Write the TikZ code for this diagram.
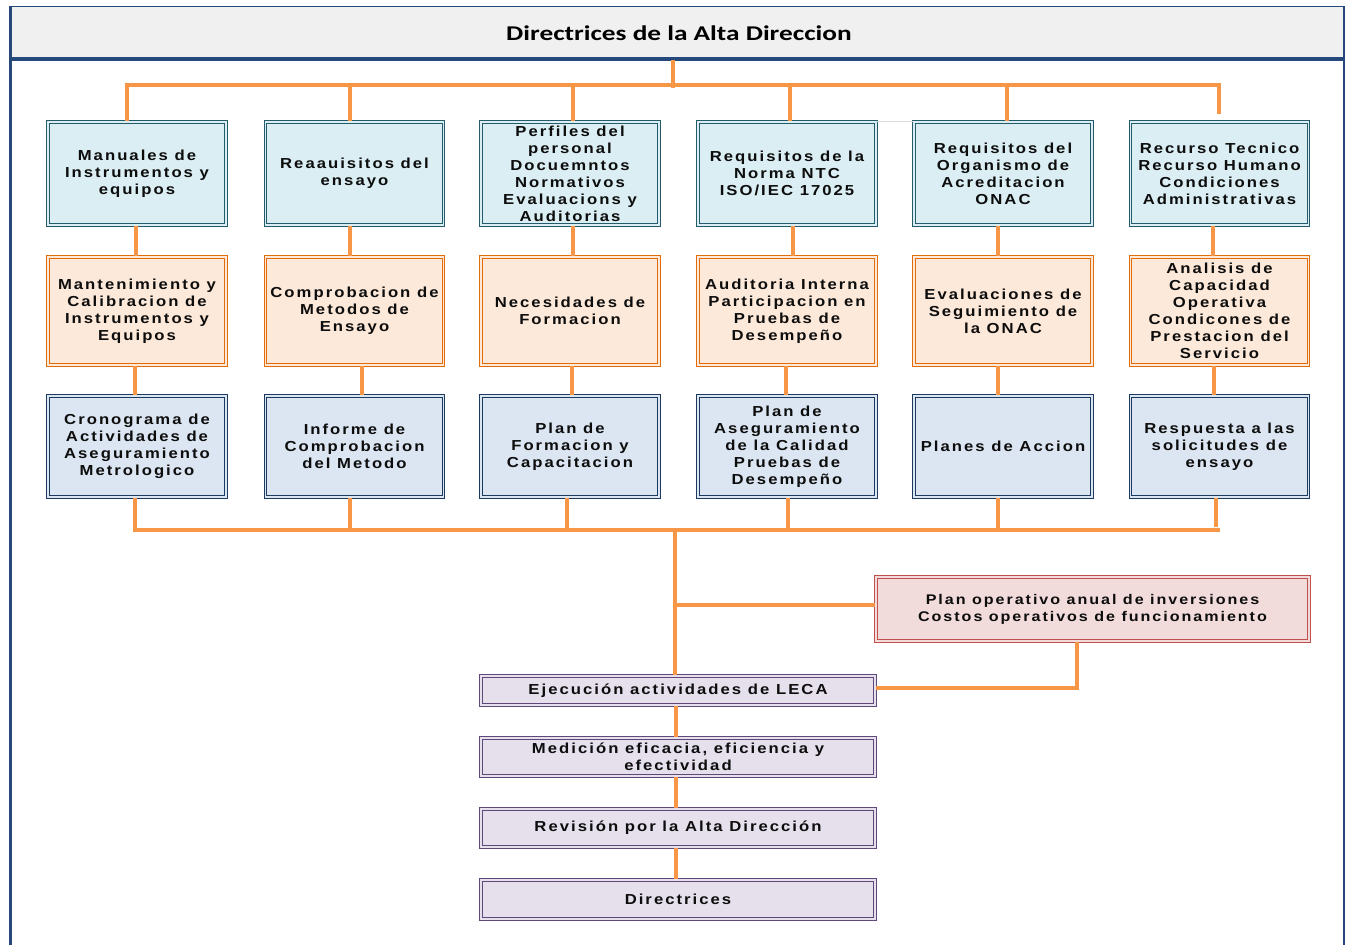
\documentclass[tikz,border=0pt]{standalone}
\usepackage{fontspec}
\setmainfont{Liberation Sans}
\newfontfamily\bxfont{Liberation Sans}[LetterSpace=14,FakeStretch=1.15]
\newfontfamily\ttlfont{Carlito}[FakeStretch=1.3]
\usetikzlibrary{calc}
\definecolor{frameblue}{HTML}{24497A}
\definecolor{bandgray}{HTML}{F0F0F0}
\definecolor{cO}{HTML}{F79646}
\definecolor{aDraw}{HTML}{245B6A}
\definecolor{aFill}{HTML}{DAEEF3}
\definecolor{bDraw}{HTML}{E36C0A}
\definecolor{bFill}{HTML}{FDE9D9}
\definecolor{cDraw}{HTML}{1B3A5E}
\definecolor{cFill}{HTML}{DCE6F2}
\definecolor{pDraw}{HTML}{C0504D}
\definecolor{pFill}{HTML}{F2DCDB}
\definecolor{vDraw}{HTML}{5F497A}
\definecolor{vFill}{HTML}{E5E0EC}
\begin{document}
\begin{tikzpicture}[x=1pt,y=-1pt,
  boxbase/.style={line width=1.1pt, double distance=1.3pt, align=center, inner sep=1pt,
    font=\bxfont\bfseries\fontsize{14.5}{17}\selectfont, text=black!95},
  rowA/.style={boxbase, draw=aDraw, fill=aFill, double=aFill, minimum width=178pt, minimum height=103pt},
  rowB/.style={boxbase, draw=bDraw, fill=bFill, double=bFill, minimum width=178pt, minimum height=108pt},
  rowC/.style={boxbase, draw=cDraw, fill=cFill, double=cFill, minimum width=178pt, minimum height=101pt},
  planbox/.style={boxbase, draw=pDraw, fill=pFill, double=pFill, minimum width=433pt, minimum height=64pt},
  flowbox/.style={boxbase, draw=vDraw, fill=vFill, double=vFill, minimum width=394pt},
  conn/.style={draw=cO, line width=4pt, line join=miter, line cap=butt}]
\useasboundingbox (0,0) rectangle (1346,945);
\fill[white] (0,0) rectangle (1346,945);
% frame and title band
\fill[bandgray] (10,6) rectangle (1344,59);
\draw[frameblue, line width=3pt] (10,945) -- (10,6);
\draw[frameblue, line width=1.5pt] (10,6.5) -- (1344,6.5);
\draw[frameblue, line width=1.8pt] (1344,6) -- (1344,945);
\draw[frameblue, line width=3.5pt] (10,59) -- (1344,59);
\node[font=\ttlfont\bfseries\fontsize{21}{25}\selectfont, text=black] (title) at (679,33) {Directrices de la Alta Direccion};

% row A
\node[rowA] (a1) at (137,173.5) {Manuales de\\Instrumentos y\\equipos};
\node[rowA] (a2) at (354.5,173.5) {Reaauisitos del\\ensayo};
\node[rowA] (a3) at (570,173.5) {Perfiles del\\personal\\Docuemntos\\Normativos\\Evaluacions y\\Auditorias};
\node[rowA] (a4) at (787,173.5) {Requisitos de la\\Norma NTC\\ISO/IEC 17025};
\node[rowA] (a5) at (1003,173.5) {Requisitos del\\Organismo de\\Acreditacion\\ONAC};
\node[rowA] (a6) at (1219.5,173.5) {Recurso Tecnico\\Recurso Humano\\Condiciones\\Administrativas};
% row B
\node[rowB] (b1) at (137,311) {Mantenimiento y\\Calibracion de\\Instrumentos y\\Equipos};
\node[rowB] (b2) at (354.5,311) {Comprobacion de\\Metodos de\\Ensayo};
\node[rowB] (b3) at (570,311) {Necesidades de\\Formacion};
\node[rowB] (b4) at (787,311) {Auditoria Interna\\Participacion en\\Pruebas de\\Desempeño};
\node[rowB] (b5) at (1003,311) {Evaluaciones de\\Seguimiento de\\la ONAC};
\node[rowB] (b6) at (1219.5,311) {Analisis de\\Capacidad\\Operativa\\Condicones de\\Prestacion del\\Servicio};
% row C
\node[rowC] (c1) at (137,446.5) {Cronograma de\\Actividades de\\Aseguramiento\\Metrologico};
\node[rowC] (c2) at (354.5,446.5) {Informe de\\Comprobacion\\del Metodo};
\node[rowC] (c3) at (570,446.5) {Plan de\\Formacion y\\Capacitacion};
\node[rowC] (c4) at (787,446.5) {Plan de\\Aseguramiento\\de la Calidad\\Pruebas de\\Desempeño};
\node[rowC] (c5) at (1003,446.5) {Planes de Accion};
\node[rowC] (c6) at (1219.5,446.5) {Respuesta a las\\solicitudes de\\ensayo};

% plan and flow
\node[planbox, font=\bxfont\bfseries\fontsize{14}{17}\selectfont] (p) at (1092.5,609) {Plan operativo anual de inversiones\\Costos operativos de funcionamiento};
\node[flowbox, minimum height=29pt] (e) at (678,690.5) {Ejecución actividades de LECA};
\node[flowbox, minimum height=38pt] (m1) at (678,757) {Medición eficacia, eficiencia y\\efectividad};
\node[flowbox, minimum height=38pt] (r) at (678,828) {Revisión por la Alta Dirección};
\node[flowbox, minimum height=39pt] (d) at (678,899.5) {Directrices};

% faint line
\draw[black!15, line width=1.2pt] (a4.north east) -- (a5.north west);

% top bus
\coordinate (tb) at (673,60);
\coordinate (bt) at (673,85);
\draw[conn] (tb) -- ($(bt)+(0,3)$);
\foreach \i/\dx in {1/-10,2/-4.5,3/3,4/3,5/4,6/-0.5}{
  \coordinate (t\i) at ($(a\i.north)+(\dx,0)$);
}
\draw[conn] (t1 |- a1.north) -- (t1 |- bt) -- (t6 |- bt) -- ($(t6)+(0,-7)$);
\foreach \i in {2,3,4,5}{
  \draw[conn] (t\i |- bt) -- (t\i);
}
% row A to row B
\foreach \i/\dx in {1/-1,2/-4.5,3/3,4/6,5/-5,6/-6.5}{
  \draw[conn] ($(a\i.south)+(\dx,0)$) -- ($(b\i.north)+(\dx,0)$);
}
% row B to row C
\foreach \i/\dx in {1/-2,2/7.5,3/2,4/-1,5/-5,6/-5.5}{
  \draw[conn] ($(b\i.south)+(\dx,0)$) -- ($(c\i.north)+(\dx,0)$);
}
% row C to bottom bus
\coordinate (bb) at (675,530);
\foreach \i/\dx in {1/-2,2/-4.5,3/-3,4/1,5/-5,6/-3.5}{
  \coordinate (u\i) at ($(c\i.south)+(\dx,0)$);
}
\draw[conn] (u1) -- (u1 |- bb) -- ($(u6 |- bb)+(4,0)$);
\foreach \i in {2,3,4,5}{
  \draw[conn] (u\i) -- (u\i |- bb);
}
\draw[conn] (u6) -- ($(u6 |- bb)+(0,-3)$);
% main vertical
\draw[conn] (bb) -- (bb |- e.north);
\coordinate (br) at (675,605);
\draw[conn] (br) -- (br -| p.west);
\coordinate (pd) at ($(p.south)+(-15.5,0)$);
\draw[conn] (pd) -- (pd |- 0,688) -- (e.east |- 0,688);
% flow
\draw[conn] ($(e.south)+(-2,0)$) -- ($(m1.north)+(-2,0)$);
\draw[conn] ($(m1.south)+(-2,0)$) -- ($(r.north)+(-2,0)$);
\draw[conn] ($(r.south)+(-2,0)$) -- ($(d.north)+(-2,0)$);
\end{tikzpicture}
\end{document}
